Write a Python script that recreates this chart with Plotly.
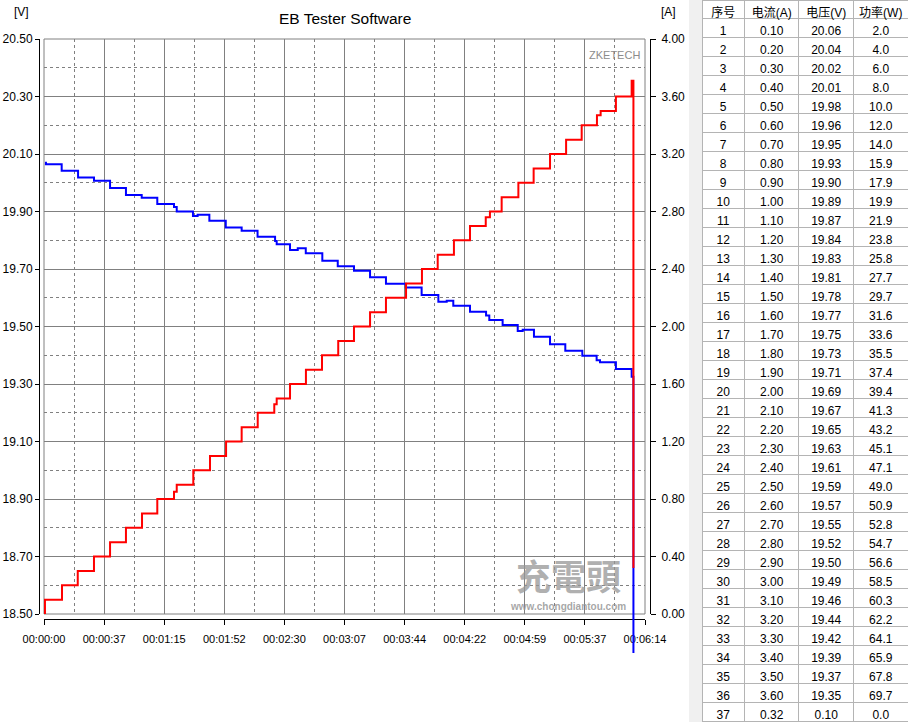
import plotly.graph_objects as go

# ---------------- data ----------------
# current curve: step start times (s) and current (A)
t_current = [0.0, 0.6, 11.2, 21.0, 31.1, 41.1, 51.0, 61.0, 70.5, 80.9, 82.6, 92.9,
             103.3, 113.3, 123.0, 133.0, 143.3, 144.8, 153.1, 163.0, 173.0, 183.1,
             192.9, 202.9, 212.8, 225.3, 235.2, 245.0, 255.1, 265.1, 274.9, 277.5,
             284.8, 295.2, 304.7, 314.9, 324.9, 334.6, 344.1, 346.4, 355.9, 365.7, 366.8]
current = [0.00, 0.10, 0.20, 0.30, 0.40, 0.50, 0.60, 0.70, 0.80, 0.85, 0.90, 1.00,
           1.10, 1.20, 1.30, 1.40, 1.46, 1.50, 1.60, 1.70, 1.80, 1.90,
           2.00, 2.10, 2.20, 2.30, 2.40, 2.50, 2.60, 2.70, 2.76, 2.80,
           2.90, 3.00, 3.10, 3.20, 3.30, 3.40, 3.47, 3.50, 3.60, 3.71, 0.32]

# voltage curve: step start times (s) and voltage (V)
t_voltage = [0.6, 1.2, 11.0, 21.2, 31.1, 41.1, 51.0, 60.8, 70.5, 80.9, 82.6, 92.7,
             95.6, 102.9, 113.1, 123.0, 132.9, 143.8, 144.8, 153.1, 157.9, 162.9,
             173.2, 182.8, 192.9, 202.9, 212.8, 225.1, 235.0, 245.4, 250.6, 254.7,
             265.1, 275.1, 277.1, 285.4, 294.8, 297.9, 304.9, 314.9, 324.4, 335.0,
             343.9, 346.0, 355.9, 365.7, 366.8]
voltage = [20.070, 20.064, 20.042, 20.018, 20.007, 19.982, 19.957, 19.948, 19.926, 19.916,
           19.900, 19.884, 19.889, 19.868, 19.844, 19.833, 19.812, 19.797, 19.786, 19.766,
           19.772, 19.755, 19.729, 19.710, 19.694, 19.671, 19.649, 19.636, 19.610, 19.586,
           19.590, 19.572, 19.551, 19.538, 19.523, 19.505, 19.484, 19.489, 19.464, 19.438,
           19.416, 19.398, 19.383, 19.376, 19.352, 19.325, 0.10]

x_tickvals = [0.0, 37.4, 74.8, 112.2, 149.6, 187.0, 224.4, 261.8, 299.2, 336.6, 374.0]
x_ticktext = ["00:00:00", "00:00:37", "00:01:15", "00:01:52", "00:02:30", "00:03:07",
              "00:03:44", "00:04:22", "00:04:59", "00:05:37", "00:06:14"]

# table
tbl_header = ["序号", "电流(A)", "电压(V)", "功率(W)"]
tbl_no = [1, 2, 3, 4, 5, 6, 7, 8, 9, 10, 11, 12, 13, 14, 15, 16, 17, 18, 19, 20,
          21, 22, 23, 24, 25, 26, 27, 28, 29, 30, 31, 32, 33, 34, 35, 36, 37]
tbl_current = [0.10, 0.20, 0.30, 0.40, 0.50, 0.60, 0.70, 0.80, 0.90, 1.00, 1.10, 1.20,
               1.30, 1.40, 1.50, 1.60, 1.70, 1.80, 1.90, 2.00, 2.10, 2.20, 2.30, 2.40,
               2.50, 2.60, 2.70, 2.80, 2.90, 3.00, 3.10, 3.20, 3.30, 3.40, 3.50, 3.60, 0.32]
tbl_voltage = [20.06, 20.04, 20.02, 20.01, 19.98, 19.96, 19.95, 19.93, 19.90, 19.89, 19.87,
               19.84, 19.83, 19.81, 19.78, 19.77, 19.75, 19.73, 19.71, 19.69, 19.67, 19.65,
               19.63, 19.61, 19.59, 19.57, 19.55, 19.52, 19.50, 19.49, 19.46, 19.44, 19.42,
               19.39, 19.37, 19.35, 0.10]
tbl_power = [2.0, 4.0, 6.0, 8.0, 10.0, 12.0, 14.0, 15.9, 17.9, 19.9, 21.9, 23.8, 25.8,
             27.7, 29.7, 31.6, 33.6, 35.5, 37.4, 39.4, 41.3, 43.2, 45.1, 47.1, 49.0, 50.9,
             52.8, 54.7, 56.6, 58.5, 60.3, 62.2, 64.1, 65.9, 67.8, 69.7, 0.0]

# ---------------- layout helpers (pixel -> paper) ----------------
W, H = 908, 722
def px(x):
    return x / W
def py(y):
    return 1 - y / H

PLOT_L, PLOT_R, PLOT_T, PLOT_B = 44, 645, 39, 614
EXT_B = 653
V_MIN, V_MAX = 18.5, 20.5
v_per_px = (V_MAX - V_MIN) / (PLOT_B - PLOT_T)

FONT = "Liberation Sans, Arial, Noto Sans CJK SC, sans-serif"
GRID = "#808080"

fig = go.Figure()

fig.add_trace(go.Scatter(x=t_voltage, y=voltage, mode="lines", xaxis="x", yaxis="y",
                         line=dict(color="#0000ff", width=2, shape="hv"),
                         showlegend=False, hoverinfo="skip"))
# same voltage series in a thin strip below the plot (the final drop runs past the frame)
fig.add_trace(go.Scatter(x=t_voltage, y=voltage, mode="lines", xaxis="x2", yaxis="y3",
                         line=dict(color="#0000ff", width=2, shape="hv"),
                         showlegend=False, hoverinfo="skip"))
fig.add_trace(go.Scatter(x=t_current, y=current, mode="lines", xaxis="x", yaxis="y2",
                         line=dict(color="#ff0000", width=2, shape="hv"),
                         showlegend=False, hoverinfo="skip"))

fig.add_trace(go.Table(
    domain=dict(x=[px(702), 1.0], y=[0.0, 1.0]),
    columnwidth=[42, 54, 54, 54],
    header=dict(values=tbl_header, height=18, fill_color="white",
                line=dict(color="#b4b4b4", width=1), align="center",
                font=dict(family="Liberation Sans, Noto Sans CJK SC", size=12, color="black")),
    cells=dict(values=[tbl_no,
                       [f"{v:.2f}" for v in tbl_current],
                       [f"{v:.2f}" for v in tbl_voltage],
                       [f"{v:.1f}" for v in tbl_power]],
               height=19, fill_color="white",
               line=dict(color="#b4b4b4", width=1), align="center",
               font=dict(family=FONT, size=12, color="black")),
))

fig.update_layout(
    width=W, height=H,
    margin=dict(l=0, r=0, t=0, b=0, autoexpand=False),
    paper_bgcolor="white", plot_bgcolor="white",
    font=dict(family=FONT, size=12, color="black"),
    showlegend=False,
    xaxis=dict(domain=[px(PLOT_L), px(PLOT_R)], range=[0, 374], anchor="free",
               position=py(619), showline=True, linecolor="black", linewidth=1,
               ticks="outside", ticklen=5, tickcolor="black", tickwidth=1,
               tickmode="array", tickvals=x_tickvals, ticktext=x_ticktext,
               tickfont=dict(size=11, color="black"), ticklabelstandoff=5,
               showgrid=True, gridcolor=GRID, gridwidth=1, zeroline=False,
               minor=dict(tick0=0, dtick=18.7, showgrid=True, gridcolor=GRID,
                          gridwidth=1, griddash="3px,3px", ticks=""),
               fixedrange=True),
    yaxis=dict(domain=[py(PLOT_B), py(PLOT_T)], range=[V_MIN, V_MAX], anchor="free",
               position=px(39), side="left", showline=True, linecolor="black",
               linewidth=1, ticks="outside", ticklen=4, tickcolor="black",
               tick0=18.5, dtick=0.2, tickformat=".2f",
               tickfont=dict(size=12, color="black"),
               showgrid=True, gridcolor=GRID, gridwidth=1, zeroline=False,
               minor=dict(tick0=18.5, dtick=0.1, showgrid=True, gridcolor=GRID,
                          gridwidth=1, griddash="3px,3px", ticks=""),
               fixedrange=True),
    yaxis2=dict(overlaying="y", side="right", anchor="free", position=px(650),
                range=[0, 4], tick0=0, dtick=0.4, tickformat=".2f",
                showline=True, linecolor="black", linewidth=1,
                ticks="outside", ticklen=5, tickcolor="black",
                tickfont=dict(size=12, color="black"), ticklabelstandoff=3,
                showgrid=False, zeroline=False, fixedrange=True),
    xaxis2=dict(domain=[px(PLOT_L), px(PLOT_R)], range=[0, 374], anchor="y3",
                visible=False, fixedrange=True),
    yaxis3=dict(domain=[py(EXT_B), py(PLOT_B)],
                range=[V_MIN - (EXT_B - PLOT_B) * v_per_px, V_MIN],
                anchor="x2", visible=False, fixedrange=True),
)

# plot frame and left grey strip next to the table
fig.add_shape(type="rect", xref="x domain", yref="y domain", x0=0, x1=1, y0=0, y1=1,
              line=dict(color=GRID, width=1), layer="below")
fig.add_shape(type="rect", xref="paper", yref="paper", x0=px(689), x1=px(702), y0=0, y1=1,
              fillcolor="#f0f0f0", line=dict(width=0), layer="below")

annos = [
    dict(text="EB Tester Software", x=px(345), y=py(19), font=dict(size=15.5)),
    dict(text="[V]", x=px(21.5), y=py(12), font=dict(size=12)),
    dict(text="[A]", x=px(668.5), y=py(12), font=dict(size=12)),
    dict(text="ZKETECH", x=px(614), y=py(55.5), font=dict(size=11, color="#8c8c8c")),
    dict(text="<b>充電頭</b>", x=px(568), y=py(574),
         font=dict(family="Noto Sans CJK SC", size=35, color="rgba(150,150,150,0.75)")),
    dict(text="<b>www.chongdiantou.com</b>", x=px(568), y=py(606),
         font=dict(size=10, color="rgba(150,150,150,0.85)")),
]
for a in annos:
    fig.add_annotation(xref="paper", yref="paper", showarrow=False,
                       xanchor="center", yanchor="middle", **a)

fig.write_html("out.html",
               config={"displayModeBar": False, "staticPlot": True},
               post_script="document.body.style.margin='0';document.body.style.overflow='hidden';")
